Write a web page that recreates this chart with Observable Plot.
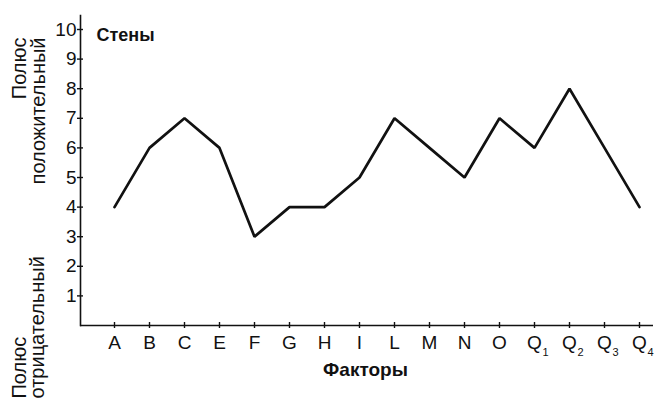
<!DOCTYPE html>
<html>
<head>
<meta charset="utf-8">
<script src="https://cdn.jsdelivr.net/npm/d3@7"></script>
<script src="https://cdn.jsdelivr.net/npm/@observablehq/plot@0.6"></script>
<style>
  html, body { margin: 0; padding: 0; background: #fff; }
  #chart svg { display: block; }
</style>
</head>
<body>
<div id="chart"></div>
<script>
// Data
const factors = ["A","B","C","E","F","G","H","I","L","M","N","O","Q1","Q2","Q3","Q4"];
const letters = ["A","B","C","E","F","G","H","I","L","M","N","O","Q","Q","Q","Q"];
const subscripts = ["","","","","","","","","","","","","1","2","3","4"];
const scores = [4, 6, 7, 6, 3, 4, 4, 5, 7, 6, 5, 7, 6, 8, 6, 4];
const yTicks = [1,2,3,4,5,6,7,8,9,10];
const title = "Стены";
const xTitle = "Факторы";

const rows = factors.map((f, i) => ({factor: f, score: scores[i], letter: letters[i], sub: subscripts[i]}));
const subRows = rows.filter(d => d.sub !== "");
const letterOf = Object.fromEntries(rows.map(d => [d.factor, d.letter]));

const font = "'Liberation Sans', Arial, Helvetica, sans-serif";
const ink = "#111";

const chart = Plot.plot({
  width: 667,
  height: 403,
  marginLeft: 80,
  marginRight: 14,
  marginTop: 15,
  marginBottom: 78,
  style: {fontFamily: font, color: ink, background: "#fff"},
  x: {type: "point", domain: factors, range: [112, 640], padding: 0},
  y: {domain: [0, 10], range: [325, 29]},
  marks: [
    Plot.frame({anchor: "left", stroke: ink, strokeWidth: 1.6}),
    Plot.ruleY([0], {stroke: ink, strokeWidth: 1.6}),
    Plot.axisY(yTicks, {
      tickSize: 6, dx: 3, tickPadding: 1, fontSize: 19, stroke: ink, strokeWidth: 1.4,
      fill: ink, label: null, tickFormat: d => String(d)
    }),
    Plot.axisX({
      tickSize: 6, dy: -3, tickPadding: 7, fontSize: 19, stroke: ink, strokeWidth: 1.4,
      fill: ink, label: null, tickFormat: d => letterOf[d]
    }),
    Plot.text(subRows, {
      x: "factor", y: () => 0, text: "sub", dx: 11, dy: 30, fontSize: 11,
      lineAnchor: "bottom", textAnchor: "middle", fill: ink
    }),
    Plot.line(rows, {x: "factor", y: "score", stroke: ink, strokeWidth: 2.7, strokeLinejoin: "miter"}),
    // chart title
    Plot.text([title], {
      frameAnchor: "top-left", dx: 16, dy: 25, fontSize: 18, fontWeight: "bold",
      textAnchor: "start", lineAnchor: "bottom", fill: ink
    }),
    // x title
    Plot.text([xTitle], {
      frameAnchor: "top-left", dx: 285, dy: 360, fontSize: 19, fontWeight: "bold",
      textAnchor: "middle", lineAnchor: "bottom", fill: ink
    }),
    // upper rotated labels
    Plot.text(["Полюс"], {
      frameAnchor: "top-left", dx: -55, dy: 22, rotate: -90, fontSize: 20,
      textAnchor: "end", lineAnchor: "bottom", fill: ink
    }),
    Plot.text(["положительный"], {
      frameAnchor: "top-left", dx: -36, dy: 22, rotate: -90, fontSize: 20,
      textAnchor: "end", lineAnchor: "bottom", fill: ink
    }),
    // lower rotated labels
    Plot.text(["Полюс"], {
      frameAnchor: "top-left", dx: -55, dy: 383, rotate: -90, fontSize: 20,
      textAnchor: "start", lineAnchor: "bottom", fill: ink
    }),
    Plot.text(["отрицательный"], {
      frameAnchor: "top-left", dx: -37, dy: 383, rotate: -90, fontSize: 20,
      textAnchor: "start", lineAnchor: "bottom", fill: ink
    })
  ]
});
document.getElementById("chart").append(chart);
</script>
</body>
</html>
